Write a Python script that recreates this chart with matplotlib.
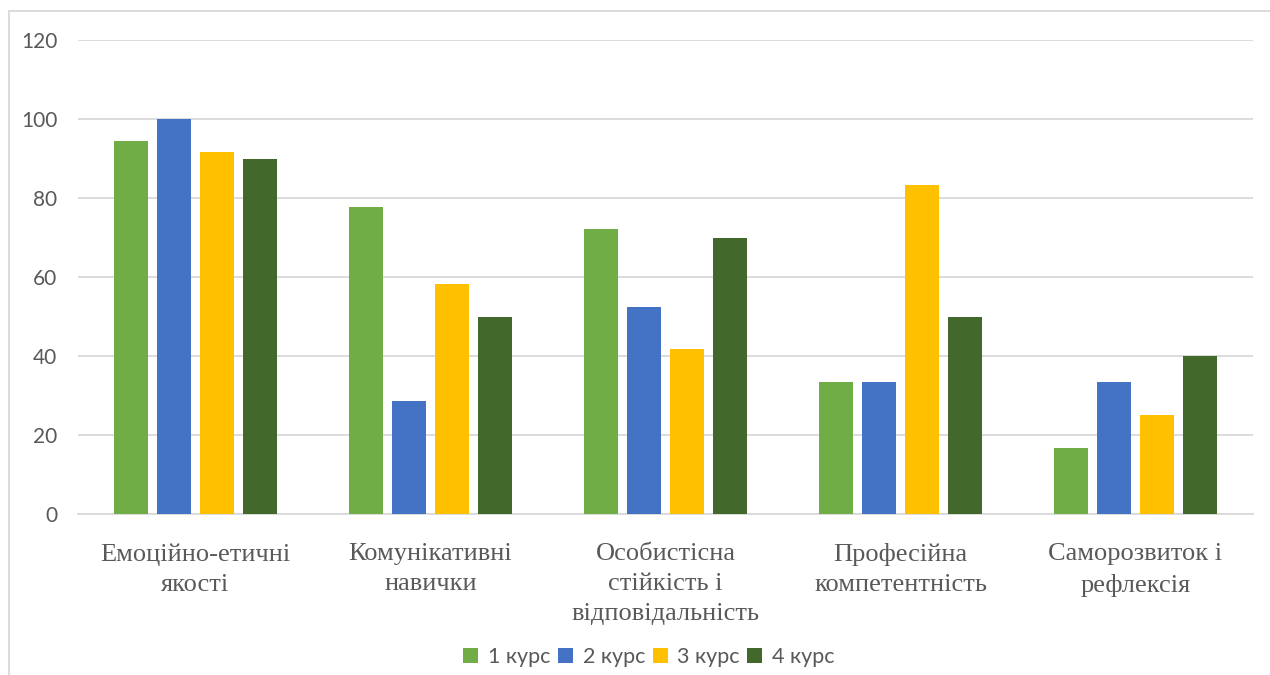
import matplotlib.pyplot as plt
import numpy as np
from matplotlib.patches import Rectangle

# Categories and results per course
categories = ["Емоційно-етичні\nякості", "Комунікативні\nнавички",
              "Особистісна\nстійкість і\nвідповідальність",
              "Професійна\nкомпетентність", "Саморозвиток і\nрефлексія"]
series_names = ["1 курс", "2 курс", "3 курс", "4 курс"]
course1 = [94.4, 77.8, 72.2, 33.3, 16.7]
course2 = [100.0, 28.6, 52.4, 33.3, 33.3]
course3 = [91.7, 58.3, 41.7, 83.3, 25.0]
course4 = [90.0, 50.0, 70.0, 50.0, 40.0]
yticks = [0, 20, 40, 60, 80, 100, 120]

colors = ["#70AD47", "#4472C4", "#FFC000", "#43682B"]
text_color = "#595959"

fig = plt.figure(figsize=(12.7, 6.75), dpi=100)
ax = fig.add_axes([0.0614, 0.2385, 0.9252, 0.7022])

x = np.arange(len(categories))
width = 0.145
step = 0.182
for i, (vals, name) in enumerate(zip([course1, course2, course3, course4], series_names)):
    ax.bar(x + (i - 1.5) * step, vals, width, color=colors[i], label=name, zorder=3)

ax.set_xlim(-0.5, len(categories) - 0.5)
ax.set_ylim(0, 120)
ax.set_yticks(yticks)
ax.set_yticklabels([str(t) for t in yticks], fontfamily="Lato", fontsize=15, color=text_color)
ax.yaxis.grid(True, color="#D9D9D9", linewidth=1.3, zorder=0)
ax.tick_params(axis="y", length=0, pad=15)

ax.set_xticks(x)
ax.set_xticklabels(categories, fontfamily="Liberation Serif", fontsize=19,
                   color=text_color, linespacing=1.47, va="top")
ax.tick_params(axis="x", length=0, pad=21)

for side in ["left", "right", "top"]:
    ax.spines[side].set_visible(False)
ax.spines["bottom"].set_color("#D9D9D9")
ax.spines["bottom"].set_linewidth(1.3)

# chart frame
fig.patches.append(Rectangle((9 / 1270, -0.05), 1.1, 1 - 11 / 675 + 0.05,
                             transform=fig.transFigure, fill=False,
                             edgecolor="#D9D9D9", linewidth=1.3))

fig.legend(loc="center", bbox_to_anchor=(0.511, 0.026), ncol=4, frameon=False,
           prop={"family": "Lato", "size": 15.5}, labelcolor=text_color,
           handlelength=0.7, handleheight=0.7, handletextpad=0.45,
           columnspacing=0.35)

fig.savefig("out.png", dpi=100)
